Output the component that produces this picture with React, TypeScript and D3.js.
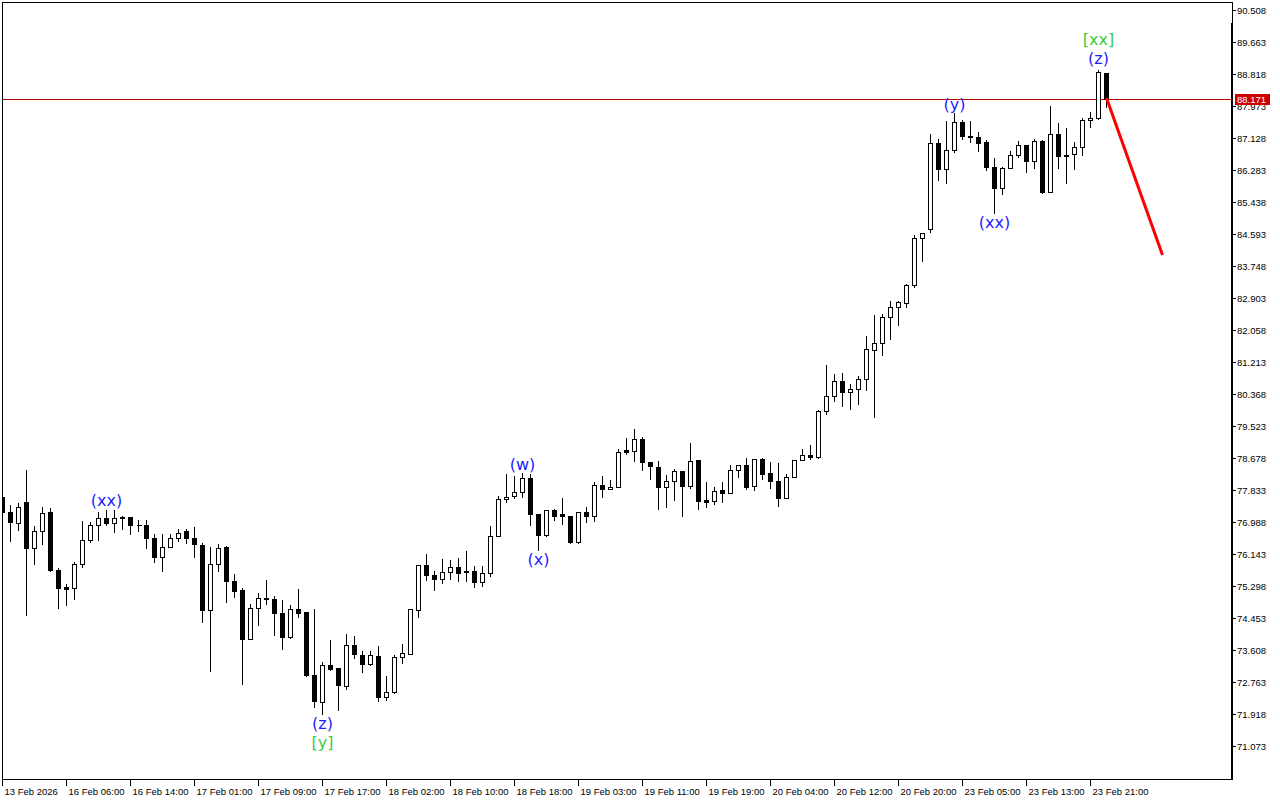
import * as d3 from "d3";

// hourly candles, 13 Feb 2026 .. 23 Feb 2026
const openP = [
  77.64, 77.26, 76.97, 77.52, 76.31, 76.76, 77.24, 75.73, 75.26, 75.25,
  75.88, 76.52, 76.91, 77.1, 76.97, 77.13, 77.13, 76.91, 76.91, 76.57,
  76.07, 76.33, 76.56, 76.74, 76.57, 76.39, 74.67, 75.89, 76.34, 75.43,
  75.18, 73.9, 74.72, 74.99, 74.96, 74.59, 73.95, 74.7, 74.6, 72.96,
  72.23, 73.22, 73.12, 72.65, 73.75, 73.48, 73.23, 73.44, 72.36, 72.5,
  73.41, 73.51, 74.67, 75.84, 75.6, 75.49, 75.67, 75.81, 75.7, 75.7,
  75.4, 75.64, 76.62, 77.6, 77.68, 77.79, 78.16, 77.2, 76.64, 77.31,
  77.2, 77.15, 76.45, 77.26, 77.14, 77.97, 77.86, 77.92, 78.88, 78.87,
  79.19, 78.58, 78.45, 77.91, 78.08, 78.34, 77.93, 78.63, 77.56, 77.55,
  77.82, 77.76, 78.37, 78.5, 77.93, 78.66, 78.29, 78.08, 77.62, 78.18,
  78.63, 78.76, 78.71, 79.92, 80.32, 80.72, 80.43, 80.51, 80.77, 81.54,
  81.72, 82.41, 82.67, 82.78, 83.25, 84.49, 84.73, 87.0, 86.32, 86.82,
  87.56, 87.19, 87.16, 87.01, 86.37, 85.8, 86.34, 86.67, 86.95, 86.53,
  87.06, 85.7, 87.24, 86.68, 86.71, 86.89, 87.6, 87.65, 88.85,
];
const highP = [
  77.71, 77.47, 77.51, 78.39, 76.9, 77.42, 77.39, 75.81, 75.39, 75.95,
  77.03, 77.02, 77.27, 77.34, 77.32, 77.16, 77.14, 77.07, 77.07, 76.7,
  76.69, 76.7, 76.82, 76.82, 76.87, 76.47, 76.35, 76.44, 76.39, 75.65,
  75.27, 74.85, 75.15, 75.47, 75.07, 74.96, 74.83, 75.25, 74.63, 74.72,
  73.32, 73.91, 73.15, 74.06, 74.01, 73.6, 73.62, 73.75, 72.96, 73.49,
  73.78, 74.72, 75.85, 76.16, 75.73, 76.05, 76.02, 76.07, 76.26, 75.86,
  75.86, 76.91, 77.71, 78.27, 78.22, 78.32, 78.27, 77.21, 77.34, 77.35,
  77.65, 77.18, 77.27, 77.42, 78.06, 78.22, 78.13, 78.93, 79.22, 79.46,
  79.27, 78.59, 78.63, 78.26, 78.42, 78.35, 79.09, 78.64, 78.06, 77.95,
  78.08, 78.51, 78.51, 78.71, 78.67, 78.71, 78.6, 78.58, 78.27, 78.64,
  78.95, 79.06, 79.96, 81.17, 80.93, 80.96, 80.66, 80.88, 81.93, 82.49,
  82.51, 82.86, 82.86, 83.3, 84.6, 84.65, 87.25, 87.12, 87.6, 87.81,
  87.64, 87.6, 87.3, 87.09, 86.63, 86.39, 86.8, 87.07, 86.98, 87.12,
  87.09, 88.01, 87.56, 87.42, 87.04, 87.69, 87.83, 88.94, 88.88,
];
const lowP = [
  77.05, 76.48, 76.77, 74.53, 75.87, 76.4, 75.7, 74.71, 74.79, 74.95,
  75.79, 76.45, 76.51, 76.92, 76.72, 76.79, 76.67, 76.75, 76.3, 75.93,
  75.69, 76.32, 76.48, 76.43, 76.06, 74.34, 73.05, 75.69, 74.87, 75.01,
  72.71, 73.89, 74.26, 74.82, 74.0, 73.64, 73.92, 74.47, 72.93, 72.1,
  71.92, 73.09, 72.02, 72.59, 73.4, 73.02, 73.21, 72.26, 72.28, 72.48,
  73.27, 73.49, 74.47, 75.45, 75.19, 75.38, 75.48, 75.44, 75.42, 75.27,
  75.29, 75.56, 76.61, 77.52, 77.61, 77.65, 76.9, 76.24, 76.63, 77.03,
  76.93, 76.44, 76.43, 76.98, 77.02, 77.64, 77.85, 77.9, 78.78, 78.59,
  78.36, 78.12, 77.34, 77.38, 77.56, 77.14, 77.89, 77.33, 77.38, 77.46,
  77.51, 77.75, 78.17, 77.86, 77.83, 78.12, 77.88, 77.42, 77.61, 78.17,
  78.62, 78.66, 78.69, 79.84, 80.18, 80.05, 79.97, 80.1, 80.47, 79.76,
  81.39, 81.82, 82.19, 82.67, 83.19, 83.88, 84.64, 86.01, 85.93, 86.75,
  87.09, 87.02, 86.78, 86.28, 85.15, 85.64, 86.33, 86.62, 86.24, 86.34,
  85.68, 85.69, 86.33, 85.95, 86.32, 86.68, 87.41, 87.63, 87.95,
];
const closeP = [
  77.26, 76.99, 77.39, 76.31, 76.76, 77.23, 75.72, 75.25, 75.22, 75.88,
  76.52, 76.91, 77.1, 76.97, 77.09, 77.09, 76.9, 76.9, 76.56, 76.06,
  76.33, 76.56, 76.7, 76.56, 76.41, 74.66, 75.89, 76.31, 75.42, 75.16,
  73.9, 74.72, 74.98, 74.95, 74.59, 73.95, 74.7, 74.58, 72.94, 72.27,
  73.22, 73.1, 72.68, 73.75, 73.49, 73.23, 73.48, 72.36, 72.5, 73.41,
  73.52, 74.68, 75.84, 75.59, 75.49, 75.67, 75.81, 75.65, 75.66, 75.4,
  75.65, 76.62, 77.6, 77.65, 77.79, 78.16, 77.21, 76.64, 77.31, 77.14,
  77.14, 76.45, 77.26, 77.14, 77.97, 77.85, 77.92, 78.84, 78.83, 79.19,
  78.57, 78.46, 77.91, 78.08, 78.34, 77.93, 78.6, 77.54, 77.51, 77.81,
  77.76, 78.37, 78.5, 77.92, 78.66, 78.25, 78.08, 77.63, 78.18, 78.63,
  78.76, 78.7, 79.92, 80.32, 80.72, 80.43, 80.51, 80.77, 81.56, 81.72,
  82.41, 82.67, 82.8, 83.25, 84.49, 84.62, 87.0, 86.32, 86.82, 87.56,
  87.18, 87.15, 87.0, 86.36, 85.8, 86.34, 86.67, 86.94, 86.52, 87.06,
  85.69, 87.24, 86.65, 86.65, 86.89, 87.61, 87.65, 88.88, 88.17,
];

const priceTicks = [
  90.508, 89.663, 88.818, 87.973, 87.128, 86.283, 85.438, 84.593, 83.748,
  82.903, 82.058, 81.213, 80.368, 79.523, 78.678, 77.833, 76.988, 76.143,
  75.298, 74.453, 73.608, 72.763, 71.918, 71.073,
];
const timeLabels = [
  "13 Feb 2026", "16 Feb 06:00", "16 Feb 14:00", "17 Feb 01:00", "17 Feb 09:00",
  "17 Feb 17:00", "18 Feb 02:00", "18 Feb 10:00", "18 Feb 18:00", "19 Feb 03:00",
  "19 Feb 11:00", "19 Feb 19:00", "20 Feb 04:00", "20 Feb 12:00", "20 Feb 20:00",
  "23 Feb 05:00", "23 Feb 13:00", "23 Feb 21:00",
];
const timeTickBars = [0, 8, 16, 24, 32, 40, 48, 56, 64, 72, 80, 88, 96, 104, 112, 120, 128, 136];

const lastPrice = 88.171;

const waveLabels = [
  { text: "(xx)", bar: 13, price: 77.56, degree: "minor" },
  { text: "(z)", bar: 40, price: 71.69, degree: "minor" },
  { text: "[y]", bar: 40, price: 71.17, degree: "intermediate" },
  { text: "(w)", bar: 65, price: 78.52, degree: "minor" },
  { text: "(x)", bar: 67, price: 76.0, degree: "minor" },
  { text: "(y)", bar: 119, price: 88.03, degree: "minor" },
  { text: "(xx)", bar: 124, price: 84.9, degree: "minor" },
  { text: "(z)", bar: 137, price: 89.24, degree: "minor" },
  { text: "[xx]", bar: 137, price: 89.75, degree: "intermediate" },
];

const forecastBars = [138, 145];
const forecastPrices = [88.2, 84.05];

const degreeColor: Record<string, string> = {
  minor: "#1c1cff",
  intermediate: "#3ccc3c",
};

const W = 1280;
const H = 800;
const plot = { left: 2, right: 1232, top: 2, bottom: 779 };
const axisFont = "'Liberation Sans', Arial, sans-serif";

export default function App() {
  const x = d3.scaleLinear().domain([0, 1]).range([2.5, 10.5]);
  const y = d3.scaleLinear().domain([71.073, 90.508]).range([746.5, 10.5]);
  const py = (v: number) => Math.floor(y(v)) + 0.5;

  const candles = d3.range(openP.length).map((i) => ({
    i,
    o: openP[i],
    h: highP[i],
    l: lowP[i],
    c: closeP[i],
  }));

  const line = d3
    .line<number>()
    .x((_, k) => x(forecastBars[k]))
    .y((d) => y(d));

  return (
    <div style={{ position: "fixed", left: 0, top: 0, width: W, height: H, background: "#fff" }}>
      <svg width={W} height={H} style={{ display: "block" }}>
        <defs>
          <clipPath id="plotClip">
            <rect x={plot.left + 1} y={plot.top + 1} width={plot.right - plot.left - 2} height={plot.bottom - plot.top - 1} />
          </clipPath>
        </defs>
        <rect width={W} height={H} fill="#fff" />

        <g clipPath="url(#plotClip)">
          {/* bid line */}
          <line
            x1={plot.left}
            x2={plot.right}
            y1={py(lastPrice)}
            y2={py(lastPrice)}
            stroke="#b80000"
            strokeWidth={1}
          />

          {candles.map((d) => {
            const cx = x(d.i);
            const up = d.c >= d.o;
            const yTop = py(Math.max(d.o, d.c));
            const yBot = py(Math.min(d.o, d.c));
            const bh = yBot - yTop;
            return (
              <g key={d.i} shapeRendering="crispEdges">
                <line x1={cx} x2={cx} y1={py(d.h)} y2={py(d.l)} stroke="#000" />
                {bh < 1 ? (
                  <line x1={cx - 2} x2={cx + 3} y1={yTop} y2={yTop} stroke="#000" />
                ) : (
                  <rect
                    x={cx - 2}
                    y={yTop}
                    width={4}
                    height={bh}
                    fill={up ? "#fff" : "#000"}
                    stroke="#000"
                  />
                )}
              </g>
            );
          })}

          <path d={line(forecastPrices) ?? ""} fill="none" stroke="#ff0000" strokeWidth={3} />

          {waveLabels.map((w, k) => (
            <text
              key={k}
              x={x(w.bar)}
              y={y(w.price)}
              textAnchor="middle"
              dominantBaseline="central"
              fontFamily="'DejaVu Sans', Verdana, sans-serif"
              fontSize={16}
              fill={degreeColor[w.degree]}
            >
              {w.text}
            </text>
          ))}
        </g>

        {/* frame */}
        <g shapeRendering="crispEdges">
          <line x1={plot.left + 0.5} x2={plot.left + 0.5} y1={plot.top} y2={plot.bottom + 1} stroke="#000" />
          <line x1={plot.left} x2={plot.right + 1} y1={plot.top + 0.5} y2={plot.top + 0.5} stroke="#000" />
          <line x1={plot.left} x2={plot.right + 1} y1={plot.bottom + 0.5} y2={plot.bottom + 0.5} stroke="#000" />
          <line x1={plot.right + 0.5} x2={plot.right + 0.5} y1={plot.top} y2={23} stroke="#000" />
          <rect x={plot.right - 1} y={23} width={2} height={plot.bottom + 1 - 23} fill="#000" />
        </g>

        {/* price axis */}
        <g fontFamily={axisFont} fontSize={9.5} fill="#000">
          {priceTicks.map((t) => (
            <g key={t}>
              <line x1={plot.right + 1} x2={plot.right + 4} y1={py(t)} y2={py(t)} stroke="#000" shapeRendering="crispEdges" />
              <text x={plot.right + 5} y={py(t)} dominantBaseline="central">
                {t.toFixed(3)}
              </text>
            </g>
          ))}
          <rect x={plot.right + 3} y={py(lastPrice) - 5.5} width={35} height={11} fill="#cc0000" />
          <text x={plot.right + 5} y={py(lastPrice)} dominantBaseline="central" fill="#fff">
            {lastPrice.toFixed(3)}
          </text>
        </g>

        {/* time axis */}
        <g fontFamily={axisFont} fontSize={9.5} fill="#000">
          {timeLabels.map((lab, k) => {
            const tx = Math.max(x(timeTickBars[k]), plot.left + 0.5);
            return (
              <g key={lab}>
                <line x1={tx} x2={tx} y1={plot.bottom + 1} y2={plot.bottom + 7} stroke="#000" shapeRendering="crispEdges" />
                <text x={tx + 2} y={plot.bottom + 12} dominantBaseline="central">
                  {lab}
                </text>
              </g>
            );
          })}
        </g>
      </svg>
    </div>
  );
}
